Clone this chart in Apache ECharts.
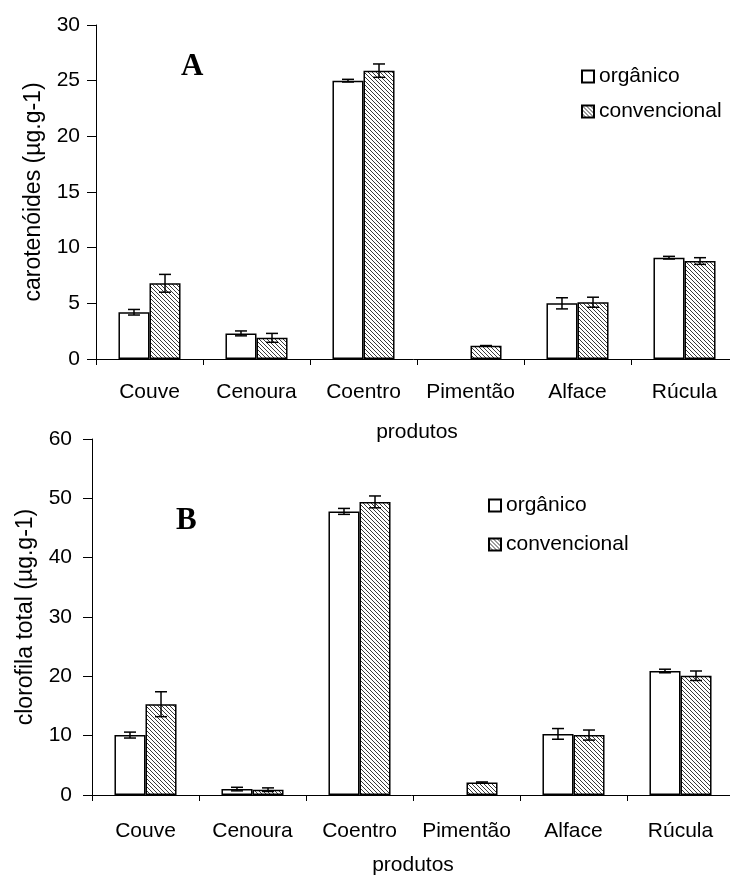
<!DOCTYPE html>
<html>
<head>
<meta charset="utf-8">
<script src="https://cdn.jsdelivr.net/npm/echarts@6/dist/echarts.min.js"></script>
<style>
html,body{margin:0;padding:0;background:#fff;}
#chart{width:730px;height:881px;}
</style>
</head>
<body>
<div id="chart"></div>
<script>
// ---- data ----
const categories = ['Couve', 'Cenoura', 'Coentro', 'Pimentão', 'Alface', 'Rúcula'];
const seriesNames = ['orgânico', 'convencional'];
// Panel A: carotenóides (µg.g-1)
const carotOrg = [4.2, 2.3, 25.0, null, 5.0, 9.1];
const carotOrgErr = [0.25, 0.22, 0.12, null, 0.5, 0.12];
const carotConv = [6.8, 1.9, 25.9, 1.2, 5.1, 8.8];
const carotConvErr = [0.8, 0.4, 0.6, 0.0, 0.45, 0.3];
// Panel B: clorofila total (µg.g-1)
const clorOrg = [10.1, 1.0, 47.8, null, 10.3, 20.9];
const clorOrgErr = [0.5, 0.3, 0.5, null, 0.9, 0.3];
const clorConv = [15.3, 0.9, 49.4, 2.1, 10.1, 20.1];
const clorConvErr = [2.1, 0.3, 1.0, 0.1, 0.85, 0.8];
const yTicksA = {min: 0, max: 30, interval: 5};
const yTicksB = {min: 0, max: 60, interval: 10};

// ---- hatch pattern ----
function makeHatch() {
  const s = 4;
  const c = document.createElement('canvas');
  c.width = s; c.height = s;
  const g = c.getContext('2d');
  g.fillStyle = '#ffffff';
  g.fillRect(0, 0, s, s);
  g.strokeStyle = '#3a3a3a';
  g.lineWidth = 1;
  g.beginPath();
  g.moveTo(-1, -1); g.lineTo(s + 1, s + 1);
  g.moveTo(-1, s - 1); g.lineTo(1, s + 1);
  g.moveTo(s - 1, -1); g.lineTo(s + 1, 1);
  g.stroke();
  return c;
}
const hatch = {image: makeHatch(), repeat: 'repeat'};

const GAP = 0.42;
const FONT = 'Liberation Sans, Arial, sans-serif';
const FS = 21;

function errRender(sign) {
  return function (params, api) {
    const v = api.value(1);
    if (v === null || v === undefined || isNaN(v)) return;
    const i = api.value(0), e = api.value(2);
    const band = api.size([1, 0])[0];
    const bw = band * (1 - GAP) / 2;
    const x = api.coord([i, v])[0] + sign * bw / 2;
    const yHi = api.coord([i, v + e])[1];
    const yLo = api.coord([i, v - e])[1];
    const cap = 6;
    const st = {stroke: '#000', lineWidth: 1.5};
    return {type: 'group', children: [
      {type: 'line', shape: {x1: x, y1: yHi, x2: x, y2: yLo}, style: st},
      {type: 'line', shape: {x1: x - cap, y1: yHi, x2: x + cap, y2: yHi}, style: st},
      {type: 'line', shape: {x1: x - cap, y1: yLo, x2: x + cap, y2: yLo}, style: st}
    ]};
  };
}
function errData(vals, errs) {
  return vals.map((v, i) => [i, v === null ? '-' : v, errs[i] === null ? 0 : errs[i]]);
}

const axisLineStyle = {lineStyle: {color: '#000', width: 1}};
function xAxis(gridIndex, margin, nameGap) {
  return {
    type: 'category', gridIndex, data: categories,
    axisLine: axisLineStyle,
    axisTick: {show: true, length: 6, alignWithLabel: false, lineStyle: {color: '#000'}},
    axisLabel: {color: '#000', fontSize: FS, fontFamily: FONT, margin, interval: 0},
    name: 'produtos', nameLocation: 'middle', nameGap,
    nameTextStyle: {color: '#000', fontSize: FS, fontFamily: FONT}
  };
}
function yAxis(gridIndex, ticks, name, labelMargin, nameGap) {
  return {
    type: 'value', gridIndex, min: ticks.min, max: ticks.max, interval: ticks.interval,
    axisLine: {show: true, lineStyle: {color: '#000', width: 1}},
    axisTick: {show: true, length: 9, lineStyle: {color: '#000'}},
    splitLine: {show: false},
    axisLabel: {color: '#000', fontSize: FS, fontFamily: FONT, margin: labelMargin},
    name, nameLocation: 'middle', nameGap, nameRotate: 90,
    nameTextStyle: {color: '#000', fontSize: 23, fontFamily: FONT}
  };
}
function bar(name, data, idx, fill) {
  return {
    type: 'bar', name, data: data.map(v => v === null ? '-' : v),
    xAxisIndex: idx, yAxisIndex: idx,
    barGap: '0%', barCategoryGap: (GAP * 100) + '%',
    itemStyle: {color: fill, borderColor: '#000', borderWidth: 1.5},
    emphasis: {disabled: true}, animation: false
  };
}
function err(data, idx, sign) {
  return {
    type: 'custom', xAxisIndex: idx, yAxisIndex: idx, data,
    encode: {x: 0, y: 1}, renderItem: errRender(sign), z: 5, animation: false, silent: true
  };
}

const legendBase = {
  orient: 'vertical', icon: 'rect', itemWidth: 12, itemHeight: 12, itemGap: 14,
  textStyle: {color: '#000', fontSize: FS, fontFamily: FONT},
  data: seriesNames, selectedMode: false
};

const option = {
  backgroundColor: '#fff',
  animation: false,
  title: [
    {text: 'A', left: 176, top: 46, textStyle: {fontFamily: 'Liberation Serif, Times New Roman, serif', fontWeight: 'bold', fontSize: 31, color: '#000'}},
    {text: 'B', left: 171, top: 500, textStyle: {fontFamily: 'Liberation Serif, Times New Roman, serif', fontWeight: 'bold', fontSize: 31, color: '#000'}}
  ],
  legend: [
    Object.assign({}, legendBase, {left: 576, top: 61}),
    Object.assign({}, legendBase, {left: 483, top: 490, itemGap: 18})
  ],
  grid: [
    {left: 96, top: 25, width: 642, height: 334, outerBoundsMode: 'none', containLabel: false},
    {left: 92, top: 439, width: 642, height: 356, outerBoundsMode: 'none', containLabel: false}
  ],
  xAxis: [xAxis(0, 23, 63), xAxis(1, 26, 60)],
  yAxis: [
    yAxis(0, yTicksA, 'carotenóides (µg.g-1)', 16, 51),
    yAxis(1, yTicksB, 'clorofila total (µg.g-1)', 20, 55)
  ],
  series: [
    bar(seriesNames[0], carotOrg, 0, '#ffffff'),
    bar(seriesNames[1], carotConv, 0, hatch),
    err(errData(carotOrg, carotOrgErr), 0, -1),
    err(errData(carotConv, carotConvErr), 0, 1),
    bar(seriesNames[0], clorOrg, 1, '#ffffff'),
    bar(seriesNames[1], clorConv, 1, hatch),
    err(errData(clorOrg, clorOrgErr), 1, -1),
    err(errData(clorConv, clorConvErr), 1, 1)
  ]
};
const chart = echarts.init(document.getElementById('chart'), null, {renderer: 'canvas'});
chart.setOption(option);
</script>
</body>
</html>
